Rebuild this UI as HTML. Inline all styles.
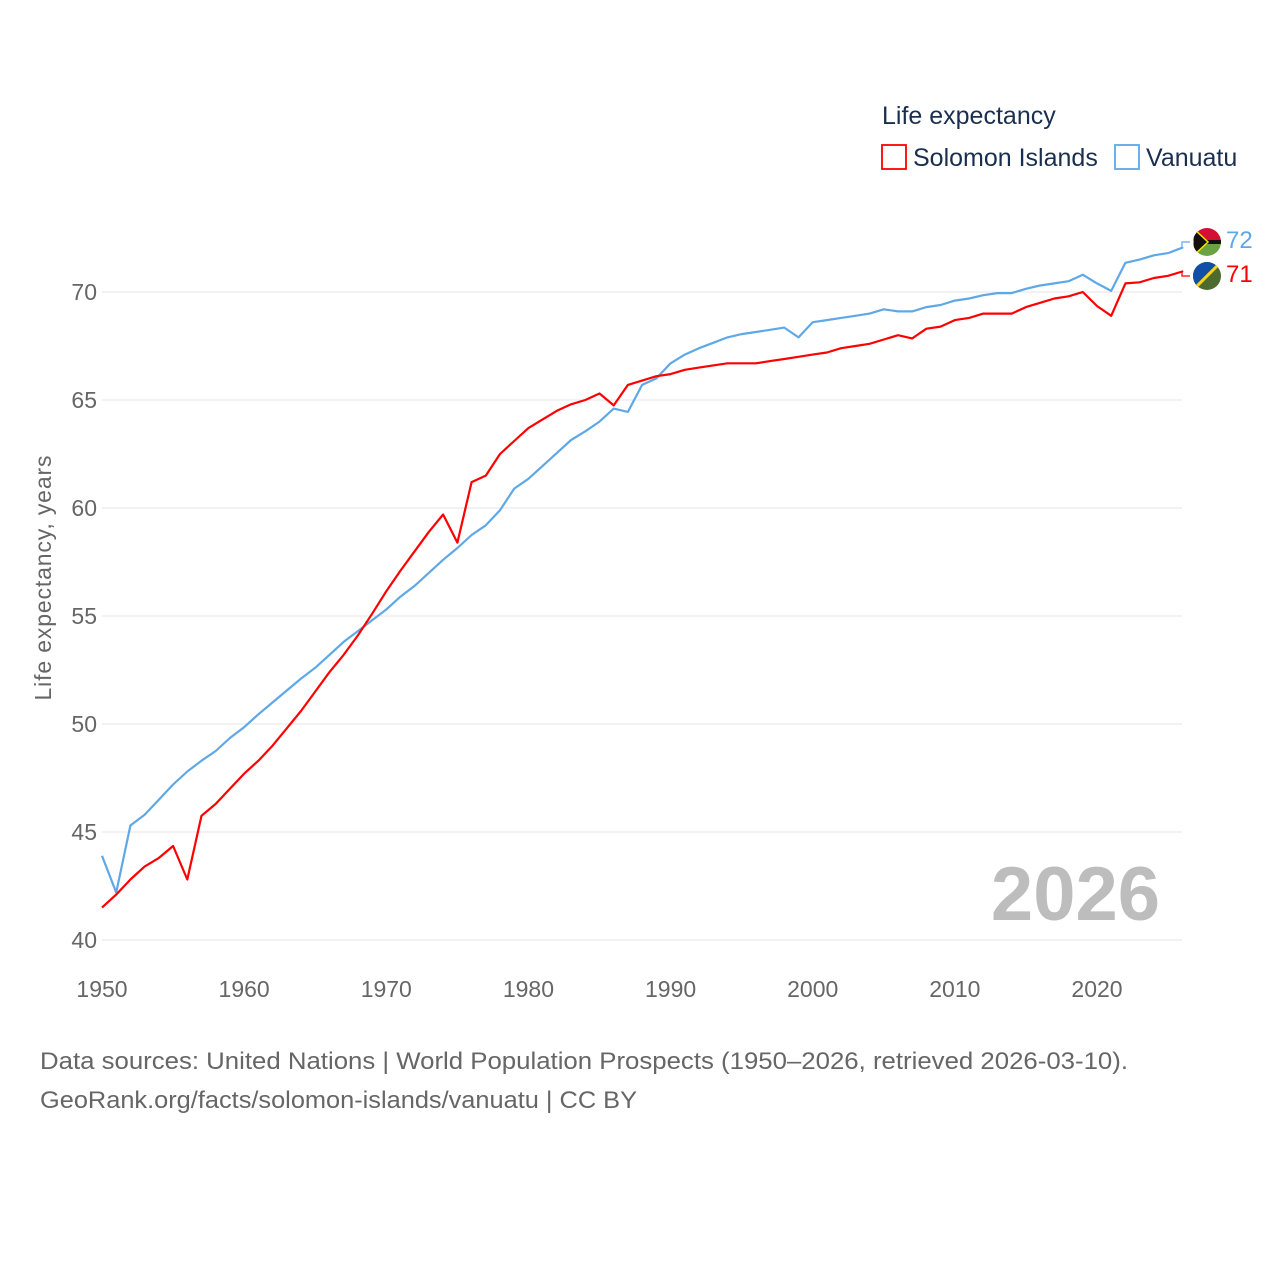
<!DOCTYPE html>
<html><head><meta charset="utf-8"><style>
body{margin:0;background:#fff;}
svg{display:block;font-family:"Liberation Sans",sans-serif;}
</style></head><body>
<svg id="chart" width="1280" height="1280">
<text x="882" y="124" font-size="25" fill="#1a2f4f">Life expectancy</text>
<g><rect x="882" y="145" width="24" height="24" fill="none" stroke="#ff0000" stroke-width="1.8"/><text x="913" y="166" font-size="25" fill="#1a2f4f">Solomon Islands</text></g>
<g><rect x="1115" y="145" width="24" height="24" fill="none" stroke="#5fa8e8" stroke-width="1.8"/><text x="1146" y="166" font-size="25" fill="#1a2f4f">Vanuatu</text></g>
<text transform="translate(51,578) rotate(-90)" text-anchor="middle" font-size="23" fill="#666" textLength="245">Life expectancy, years</text>
<text x="1160" y="920" text-anchor="end" font-size="76" font-weight="bold" fill="#bdbdbd">2026</text>
<g id="grid"></g><g id="lines"></g>
<g>
<clipPath id="cv"><circle cx="1207" cy="242" r="14"/></clipPath>
<g clip-path="url(#cv)"><rect x="1193" y="228" width="28" height="14" fill="#d21034"/><rect x="1193" y="242" width="28" height="14" fill="#6aa343"/><rect x="1193" y="240" width="28" height="4" fill="#111"/><polygon points="1193,228 1208,242 1193,256" fill="#111" stroke="#fce300" stroke-width="1.5"/></g></g>
<g>
<clipPath id="cs"><circle cx="1207" cy="276" r="14"/></clipPath>
<g clip-path="url(#cs)"><rect x="1193" y="262" width="28" height="28" fill="#4b6b2f"/><polygon points="1193,262 1221,262 1193,290" fill="#0f4fa8"/><line x1="1221" y1="262" x2="1193" y2="290" stroke="#fcd116" stroke-width="3"/></g></g>
<text x="1226" y="248" font-size="24" fill="#5fa8e8">72</text>
<text x="1226" y="282" font-size="24" fill="#ff0000">71</text>
<text x="40" y="1069" font-size="24" fill="#666" textLength="1088" lengthAdjust="spacingAndGlyphs">Data sources: United Nations | World Population Prospects (1950–2026, retrieved 2026-03-10).</text>
<text x="40" y="1108" font-size="24" fill="#666" textLength="597" lengthAdjust="spacingAndGlyphs">GeoRank.org/facts/solomon-islands/vanuatu | CC BY</text>
</svg>
<script>
const years=[];for(let y=1950;y<=2026;y++)years.push(y);
const solomon=[41.5,42.1,42.8,43.4,43.8,44.35,42.8,45.75,46.3,47.0,47.7,48.3,49.0,49.8,50.6,51.5,52.4,53.2,54.1,55.1,56.15,57.1,58.0,58.9,59.7,58.4,61.2,61.5,62.5,63.1,63.7,64.1,64.5,64.8,65.0,65.3,64.75,65.7,65.9,66.1,66.2,66.4,66.5,66.6,66.7,66.7,66.7,66.8,66.9,67.0,67.1,67.2,67.4,67.5,67.6,67.8,68.0,67.85,68.3,68.4,68.7,68.8,69.0,69.0,69.0,69.3,69.5,69.7,69.8,70.0,69.35,68.9,70.4,70.45,70.65,70.75,70.95];
const vanuatu=[43.9,42.2,45.3,45.8,46.5,47.2,47.8,48.3,48.75,49.35,49.85,50.45,51.0,51.55,52.1,52.6,53.2,53.8,54.3,54.8,55.3,55.9,56.4,57.0,57.6,58.15,58.75,59.2,59.9,60.9,61.35,61.95,62.55,63.15,63.55,64.0,64.6,64.45,65.7,66.0,66.7,67.1,67.4,67.65,67.9,68.05,68.15,68.25,68.35,67.9,68.6,68.7,68.8,68.9,69.0,69.2,69.1,69.1,69.3,69.4,69.6,69.7,69.85,69.95,69.95,70.15,70.3,70.4,70.5,70.8,70.4,70.05,71.35,71.5,71.7,71.8,72.05];
const yTicks=[40,45,50,55,60,65,70];
const xTicks=[1950,1960,1970,1980,1990,2000,2010,2020];
const NS='http://www.w3.org/2000/svg';
const X=y=>102+(y-1950)*(995/70);
const Y=v=>940-(v-40)*21.6;
function mk(t,a,p){const e=document.createElementNS(NS,t);for(const k in a)e.setAttribute(k,a[k]);p.appendChild(e);return e;}
const grid=document.getElementById('grid');
yTicks.forEach(v=>{
 const l=mk('line',{x1:102,x2:1182,y1:Y(v),y2:Y(v),stroke:'#e6e6e6','stroke-width':1},grid);
 
 
 const t=mk('text',{x:97,y:Y(v)+8,'text-anchor':'end','font-size':23,fill:'#666'},grid);
 t.textContent=v;
 
 
});
xTicks.forEach(v=>{
 const t=mk('text',{x:X(v),y:997,'text-anchor':'middle','font-size':23,fill:'#666'},grid);
 t.textContent=v;
 
 
});
const lines=document.getElementById('lines');
function draw(vals,col,name){
 let d=vals.map((v,i)=>(i?'L':'M')+X(years[i]).toFixed(1)+','+Y(v).toFixed(1)).join(' ');
 const last=Y(vals[vals.length-1]);
 d+=' L1182,'+last.toFixed(1);
 const p=mk('path',{d:d,fill:'none',stroke:col,'stroke-width':2.2,'stroke-linejoin':'round'},lines);
 
 
 const ly=name==='line-vanuatu'?242:276;
 const c=mk('path',{d:'M1182,'+last.toFixed(1)+' L1182,'+ly+' L1190,'+ly,fill:'none',stroke:col,'stroke-width':1.2},lines);
 
 
}
draw(vanuatu,'#5fa8e8','line-vanuatu');
draw(solomon,'#ff0000','line-solomon-islands');
</script>
</body></html>
